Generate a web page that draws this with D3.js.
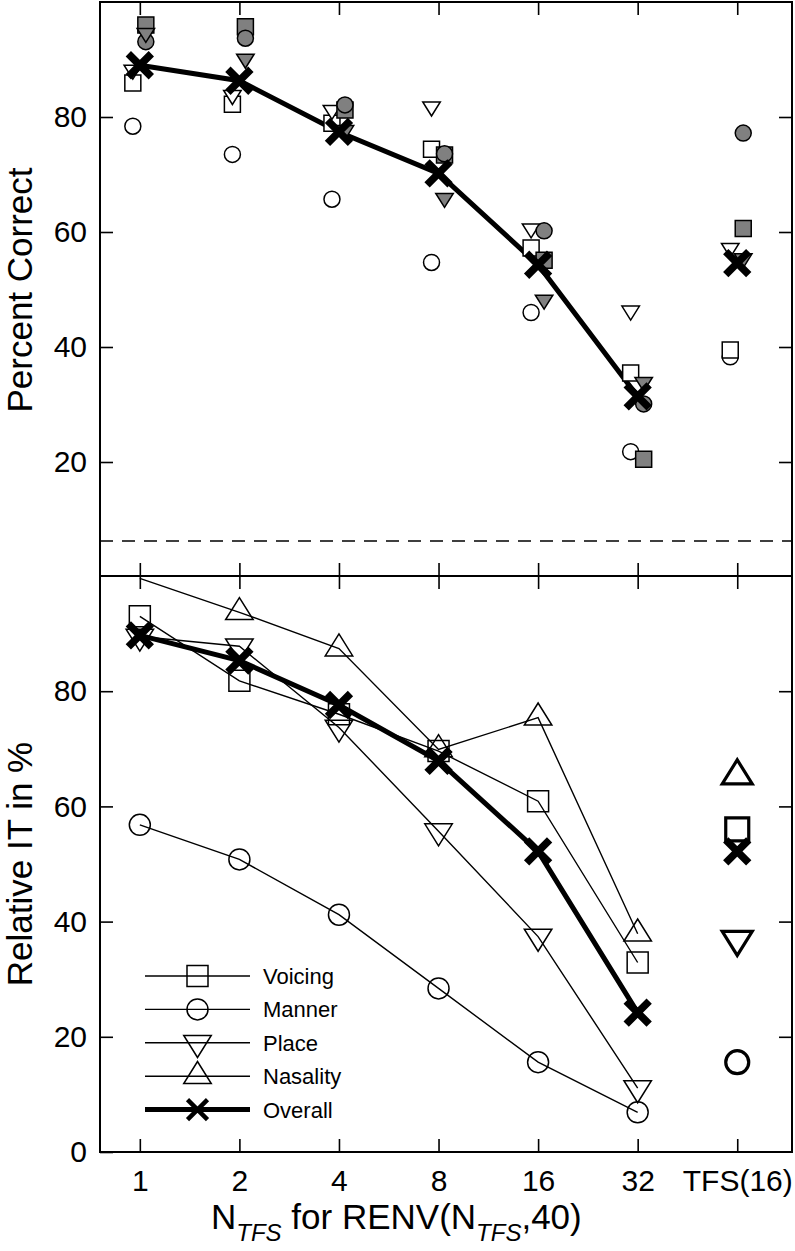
<!DOCTYPE html>
<html><head><meta charset="utf-8">
<script src="https://cdn.jsdelivr.net/npm/d3@7"></script>
<style>body{margin:0;background:#fff}svg{display:block}text{font-family:"Liberation Sans",Arial,sans-serif;fill:#000}</style>
</head><body>
<script>
// ---------- data ----------
const categories = ["1","2","4","8","16","32","TFS(16)"];
const yTicksTop = [20,40,60,80];
const yTicksBottom = [0,20,40,60,80];
const chanceLevel = 6.25;

// top panel: percent correct (open = one group, gray = other group)
const voicingOpen = [85.9, 82.2, 78.9, 74.4, 57.2, 35.5, 39.5];
const mannerOpen  = [78.4, 73.5, 65.7, 54.7, 46.0, 21.8, 38.3];
const placeOpen   = [88.2, 83.8, 81.2, 81.8, 60.6, 46.3, 57.2];
const voicingGray = [96.0, 95.7, 81.2, 73.4, 55.1, 20.5, 60.6];
const mannerGray  = [93.1, 93.7, 82.1, 73.6, 60.2, 30.1, 77.2];
const placeGray   = [94.6, 90.1, 77.7, 65.9, 48.2, 33.9, 55.4];
const overallTop  = [89.0, 86.3, 77.4, 70.2, 54.3, 31.4, 54.6];

// bottom panel: relative information transmitted (%)
const voicingIT  = [93.0, 81.8, 76.0, 69.6, 60.9, 32.9, 56.0];
const mannerIT   = [56.8, 50.8, 41.2, 28.4, 15.6, 6.9, 15.6];
const placeIT    = [89.5, 87.8, 73.7, 55.7, 37.4, 11.1, 36.9];
const nasalityIT = [99.6, 93.7, 87.4, 69.9, 75.4, 37.9, 65.3];
const overallIT  = [89.7, 85.3, 77.6, 67.9, 52.2, 24.2, 52.2];

const legendLabels = ["Voicing","Manner","Place","Nasality","Overall"];

// ---------- layout ----------
const W = 795, H = 1251;
const L = 100, R = 792, T = 2, MID = 576, B = 1152;
const svg = d3.select("body").append("svg").attr("width", W).attr("height", H);

const x = d3.scaleLinear().domain([-0.4, 6.55]).range([L, R]);
const yTop = d3.scaleLinear().domain([0, 100]).range([577, T]);
const yBot = d3.scaleLinear().domain([0, 100]).range([B, MID]);
const idx = d3.range(categories.length);
const lineIdx = d3.range(6); // connect 1..32 only

// ---------- symbol paths ----------
function sym(type, s) {
  if (type === "square") { const h = s/2; return `M${-h},${-h}H${h}V${h}H${-h}Z`; }
  if (type === "circle") { const r = s/2; return `M${r},0A${r},${r} 0 1,1 ${-r},0A${r},${r} 0 1,1 ${r},0Z`; }
  if (type === "down") { const w = s*1.25/2, h = s; return `M${-w},${-h/3}H${w}L0,${2*h/3}Z`; }
  if (type === "up") { const w = s*1.25/2, h = s; return `M${-w},${h/3}H${w}L0,${-2*h/3}Z`; }
  if (type === "x") { const a = s/2; return `M${-a},${-a}L${a},${a}M${-a},${a}L${a},${-a}`; }
}
function drawMarkers(g, data, yS, type, size, opt) {
  const o = Object.assign({fill:"none", stroke:"#000", sw:1.5, dx:0, filter:()=>true}, opt||{});
  g.selectAll(null).data(idx.filter(i => o.filter(i, data[i])).map(i => [i, data[i]])).join("path")
    .attr("transform", d => `translate(${x(d[0]) + o.dx},${yS(d[1])})`)
    .attr("d", sym(type, size))
    .attr("fill", o.fill).attr("stroke", o.stroke).attr("stroke-width", o.sw)
    .attr("stroke-linejoin", "miter");
}

// ---------- axes / ticks ----------
function ticksLeft(yS, vals, labels) {
  const a = d3.axisLeft(yS).tickValues(vals).tickSize(-13).tickPadding(13)
    .tickFormat(labels ? d3.format("d") : "");
  const g = svg.append("g").attr("transform", `translate(${L},0)`).call(a);
  g.select(".domain").remove();
  g.selectAll(".tick line").attr("stroke", "#000").attr("stroke-width", 1.6);
  g.selectAll("text").attr("font-size", 30).attr("fill", "#000");
}
function ticksRight(yS, vals) {
  const g = svg.append("g").attr("transform", `translate(${R},0)`)
    .call(d3.axisRight(yS).tickValues(vals).tickSize(-13).tickFormat(""));
  g.select(".domain").remove();
  g.selectAll(".tick line").attr("stroke", "#000").attr("stroke-width", 1.6);
}
function ticksX(yPos, dir, withLabels) {
  const a = (dir === "down" ? d3.axisTop(x) : d3.axisBottom(x)).tickValues(idx).tickSize(-13).tickPadding(18)
    .tickFormat(withLabels ? (i => categories[i]) : "");
  const g = svg.append("g").attr("transform", `translate(0,${yPos})`).call(a);
  g.select(".domain").remove();
  g.selectAll(".tick line").attr("stroke", "#000").attr("stroke-width", 1.6);
  g.selectAll("text").attr("font-size", 30).attr("fill", "#000");
}

ticksLeft(yTop, yTicksTop, true);
ticksLeft(yBot, yTicksBottom, true);
ticksRight(yTop, yTicksTop);
ticksRight(yBot, yTicksBottom.slice(1));
ticksX(T, "down", false);     // top of top panel, pointing down
ticksX(MID, "up", false);     // bottom of top panel, pointing up
ticksX(MID, "down", false);   // top of bottom panel, pointing down
ticksX(B, "up", true);        // bottom axis with labels

// frame
svg.append("rect").attr("x", L).attr("y", T).attr("width", R - L).attr("height", B - T)
  .attr("fill", "none").attr("stroke", "#000").attr("stroke-width", 2);
svg.append("line").attr("x1", L).attr("x2", R).attr("y1", MID).attr("y2", MID)
  .attr("stroke", "#000").attr("stroke-width", 2);

// chance level
svg.append("line").attr("x1", L).attr("x2", R).attr("y1", yTop(chanceLevel)).attr("y2", yTop(chanceLevel))
  .attr("stroke", "#000").attr("stroke-width", 1.5).attr("stroke-dasharray", "13,9");

// ---------- top panel ----------
const gTop = svg.append("g");
const lineTop = d3.line().x(i => x(i)).y(i => yTop(overallTop[i]));
gTop.append("path").attr("d", lineTop(lineIdx)).attr("fill", "none").attr("stroke", "#000").attr("stroke-width", 5);
const OPEN = -7, GRAY = 6, TS = 16;
drawMarkers(gTop, mannerOpen, yTop, "circle", TS, {fill:"#fff", dx:OPEN});
drawMarkers(gTop, voicingOpen, yTop, "square", TS, {fill:"#fff", dx:OPEN});
drawMarkers(gTop, placeOpen, yTop, "down", 14, {fill:"#fff", dx:OPEN});
drawMarkers(gTop, voicingGray, yTop, "square", TS, {fill:"#808080", dx:GRAY});
drawMarkers(gTop, mannerGray, yTop, "circle", TS, {fill:"#808080", dx:GRAY});
drawMarkers(gTop, placeGray, yTop, "down", 14, {fill:"#808080", dx:GRAY});
drawMarkers(gTop, overallTop, yTop, "x", 23, {sw:7.5});

// ---------- bottom panel ----------
const gBot = svg.append("g");
const series = [
  {d: voicingIT, t: "square", s: 21},
  {d: mannerIT, t: "circle", s: 21},
  {d: placeIT, t: "down", s: 22},
  {d: nasalityIT, t: "up", s: 22}
];
series.forEach(se => {
  const ln = d3.line().x(i => x(i)).y(i => yBot(se.d[i]));
  gBot.append("path").attr("d", ln(lineIdx)).attr("fill", "none").attr("stroke", "#000").attr("stroke-width", 1.4);
  // symbols at the upper axis limit are not drawn
  drawMarkers(gBot, se.d, yBot, se.t, se.s, {sw:1.5, filter:(i,v)=> i < 6 && v < 99});
  drawMarkers(gBot, se.d, yBot, se.t, se.s + 2, {sw:3.2, filter:(i)=> i === 6});
});
const lnO = d3.line().x(i => x(i)).y(i => yBot(overallIT[i]));
gBot.append("path").attr("d", lnO(lineIdx)).attr("fill", "none").attr("stroke", "#000").attr("stroke-width", 5);
drawMarkers(gBot, overallIT, yBot, "x", 23, {sw:7.5});

// ---------- legend ----------
const legTypes = ["square","circle","down","up","x"];
const gLeg = svg.append("g");
legendLabels.forEach((lab, k) => {
  const yy = 976 + k * 33.4;
  gLeg.append("line").attr("x1", 145).attr("x2", 250).attr("y1", yy).attr("y2", yy)
    .attr("stroke", "#000").attr("stroke-width", k === 4 ? 5 : 1.4);
  const sz = legTypes[k] === "x" ? 20 : (legTypes[k] === "square" || legTypes[k] === "circle" ? 21 : 22);
  gLeg.append("path").attr("transform", `translate(197.5,${yy})`).attr("d", sym(legTypes[k], sz))
    .attr("fill", "none").attr("stroke", "#000").attr("stroke-width", k === 4 ? 4.5 : 1.5);
  gLeg.append("text").attr("x", 263).attr("y", yy + 8).attr("font-size", 22).text(lab);
});

// ---------- axis titles ----------
svg.append("text").attr("transform", `translate(32,290) rotate(-90)`).attr("text-anchor", "middle")
  .attr("font-size", 35).text("Percent Correct");
svg.append("text").attr("transform", `translate(32,864) rotate(-90)`).attr("text-anchor", "middle")
  .attr("font-size", 35).text("Relative IT in %");
const xt = svg.append("text").attr("x", 211).attr("y", 1229).attr("font-size", 35);
xt.append("tspan").text("N");
xt.append("tspan").attr("font-size", 24).attr("font-style", "italic").attr("dy", 12).text("TFS");
xt.append("tspan").attr("dy", -12).text(" for RENV(N");
xt.append("tspan").attr("font-size", 24).attr("font-style", "italic").attr("dy", 12).text("TFS");
xt.append("tspan").attr("dy", -12).text(",40)");
</script>
</body></html>
